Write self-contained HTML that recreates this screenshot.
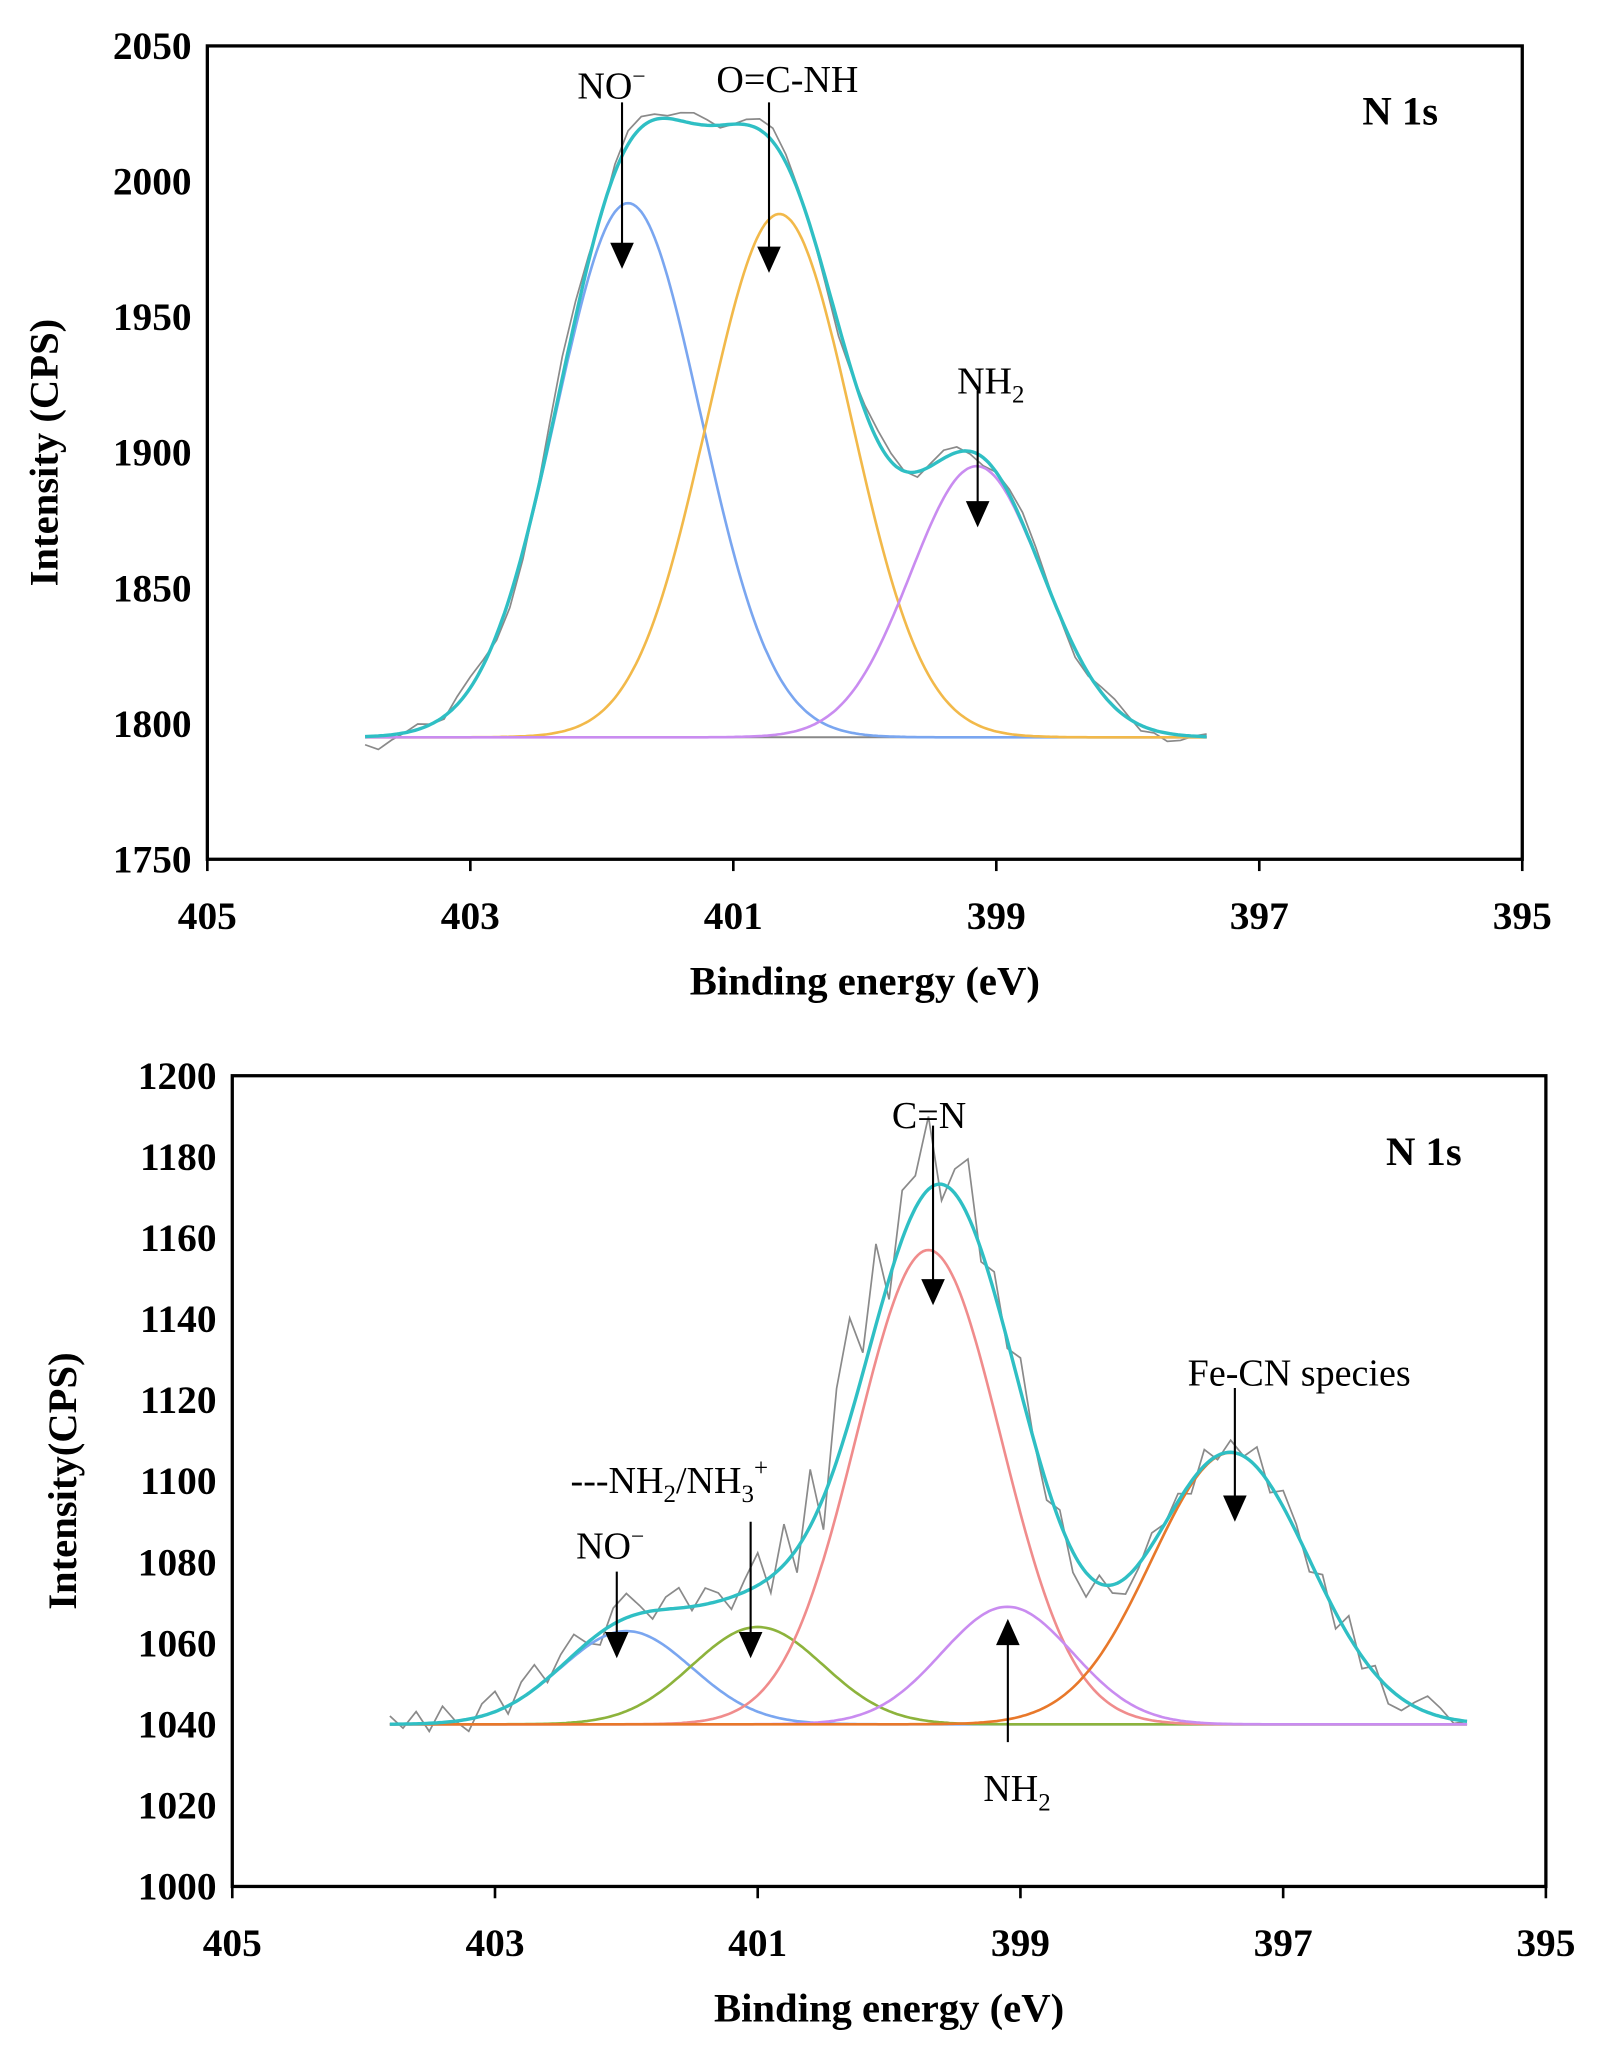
<!DOCTYPE html>
<html><head><meta charset="utf-8">
<style>
html,body{margin:0;padding:0;background:#fff;}
svg{display:block;}
text{font-family:"Liberation Serif",serif;}
.tick{font-weight:bold;font-size:30px;}
.title{font-weight:bold;font-size:31px;}
.ann{font-size:29px;}
</style></head>
<body>
<svg id="chart" width="1601" height="2057" viewBox="0 0 1220 1568" preserveAspectRatio="none">
</svg>
<script>
const NS="http://www.w3.org/2000/svg";
const svg=document.getElementById('chart');
// ---- data: top panel ----
const topXTicks=[405,403,401,399,397,395];
const topYTicks=[1750,1800,1850,1900,1950,2000,2050];
const topBaseline=1795;
const topCenters=[401.8,400.65,399.15];
const topAmps=[197,193,100];
const topSigmas=[0.55,0.55,0.5];
const topColors=['#7aa6f0','#f2b94a','#c98cf0'];
const topResid=[-3,-5,-2,0,2,0,-1,3,4,2,-2,-4,-3,0,5,8,6,2,-1,3,5,4,2,1,3,4,2,-1,0,2,4,5,3,1,0,-2,-4,-1,2,4,3,0,-2,1,3,2,-1,-3,0,2,4,3,1,-1,-3,-1,2,3,1,-2,-1,-3,-2,0,1];
// ---- data: bottom panel ----
const botXTicks=[405,403,401,399,397,395];
const botYTicks=[1000,1020,1040,1060,1080,1100,1120,1140,1160,1180,1200];
const botBaseline=1040;
const botCenters=[402.0,401.0,399.7,399.1,397.4];
const botAmps=[23,24,117,29,67];
const botSigmas=[0.5,0.5,0.55,0.5,0.6];
const botColors=['#7aa6f0','#8db33c','#f08c8c','#c98cf0','#e8782a'];
const botResid=[2,-1,3,-2,4,0,-3,3,5,-2,4,6,-1,3,5,0,-3,4,6,2,-2,3,5,-1,4,2,-3,3,8,-4,10,-6,14,-8,18,25,5,20,-5,12,8,18,-4,6,14,-3,5,-2,8,0,-4,3,-5,-6,2,-2,-4,-1,3,0,2,-3,4,-1,3,0,5,-2,4,2,-3,3,-4,5,-3,2,-4,-3,1,4,2,-1,0];

function el(tag,attrs,parent,txt){const e=document.createElementNS(NS,tag);for(const k in attrs)e.setAttribute(k,attrs[k]);if(txt!==undefined)e.textContent=txt;(parent||svg).appendChild(e);return e;}

function panel(o){
  const g=el('g',{});
  
  
  const X=v=>o.L+(405-v)/10*(o.R-o.L);
  const Y=v=>o.B-(v-o.ymin)/(o.ymax-o.ymin)*(o.B-o.T);
  const f=el('rect',{x:o.L,y:o.T,width:o.R-o.L,height:o.B-o.T,fill:'none',stroke:'#000','stroke-width':2.5},g);
  
  o.xt.forEach(v=>{
    const t=el('line',{x1:X(v),x2:X(v),y1:o.B,y2:o.B+9,stroke:'#000','stroke-width':2},g);
    
    const l=el('text',{x:X(v),y:o.B+53,'text-anchor':'middle',class:'tick'},g,v);
    
  });
  o.yt.forEach(v=>{
    const l=el('text',{x:o.L-12,y:Y(v)+10,'text-anchor':'end',class:'tick'},g,v);
    
  });
  const xt=el('text',{x:(o.L+o.R)/2,y:o.B+103,'text-anchor':'middle',class:'title'},g,'Binding energy (eV)');
  
  const cy=(o.T+o.B)/2;
  const yt=el('text',{x:o.ytx,y:cy,'text-anchor':'middle',class:'title',transform:`rotate(-90 ${o.ytx} ${cy})`},g,o.ytitle);
  
  const xs=[];for(let i=0;i<=Math.round((o.x0-o.x1)*50);i++)xs.push(o.x0-i*0.02);
  const comp=(k,x)=>o.amps[k]*Math.exp(-((x-o.centers[k])**2)/(2*o.sig[k]**2));
  const bl=el('line',{x1:X(o.x0),x2:X(o.x1),y1:Y(o.base),y2:Y(o.base),stroke:'#888','stroke-width':1.5},g);
  
  let d='';o.resid.forEach((r,i)=>{const x=o.x0-i*0.1;let s=o.base;for(let k=0;k<o.centers.length;k++)s+=comp(k,x);d+=(i?'L':'M')+X(x).toFixed(1)+','+Y(s+r).toFixed(1);});
  const raw=el('path',{d:d,fill:'none',stroke:'#8a8a8a','stroke-width':1.3},g);
  
  for(let k=0;k<o.centers.length;k++){
    let p='';xs.forEach((x,i)=>{p+=(i?'L':'M')+X(x).toFixed(1)+','+Y(o.base+comp(k,x)).toFixed(1);});
    const c=el('path',{d:p,fill:'none',stroke:o.colors[k],'stroke-width':2},g);
    
  }
  let e='';xs.forEach((x,i)=>{let s=o.base;for(let k=0;k<o.centers.length;k++)s+=comp(k,x);e+=(i?'L':'M')+X(x).toFixed(1)+','+Y(s).toFixed(1);});
  const env=el('path',{d:e,fill:'none',stroke:'#2fbfc4','stroke-width':2.6},g);
  
  const n1=el('text',{x:o.R-93,y:o.T+o.n1y,'text-anchor':'middle',class:'title'},g,'N 1s');
  
  return g;
}
panel({name:'top-panel',L:158,R:1160,T:35,B:655,ymin:1750,ymax:2050,xt:topXTicks,yt:topYTicks,ytx:44,ytitle:'Intensity (CPS)',x0:403.8,x1:397.4,base:topBaseline,centers:topCenters,amps:topAmps,sig:topSigmas,colors:topColors,resid:topResid,n1y:60});
panel({name:'bottom-panel',L:177,R:1178,T:820,B:1438,ymin:1000,ymax:1200,xt:botXTicks,yt:botYTicks,ytx:58,ytitle:'Intensity(CPS)',x0:403.8,x1:395.6,base:botBaseline,centers:botCenters,amps:botAmps,sig:botSigmas,colors:botColors,resid:botResid,n1y:68});

function arrow(name,x,y1,y2){
  const g=el('g',{});
  
  const dir=y2>y1?1:-1;
  el('line',{x1:x,x2:x,y1:y1,y2:y2-dir*18,stroke:'#000','stroke-width':1.6},g);
  el('polygon',{points:`${x-9},${y2-dir*20} ${x+9},${y2-dir*20} ${x},${y2}`,fill:'#000'},g);
}
function label(name,x,y,html){const t=el('text',{x:x,y:y,'text-anchor':'middle',class:'ann'});t.innerHTML=html;}
arrow('arrow-no-top',474,78,205);label('label-no-top',466,75,'NO<tspan dy="-11" font-size="18">−</tspan>');
arrow('arrow-ocnh-top',586,78,208);label('label-ocnh-top',600,70,'O=C-NH');
arrow('arrow-nh2-top',745,298,402);label('label-nh2-top',755,300,'NH<tspan dy="7" font-size="19">2</tspan>');
arrow('arrow-cn-bot',711,858,995);label('label-cn-bot',708,860,'C=N');
arrow('arrow-fecn-bot',941,1058,1160);label('label-fecn-bot',990,1056,'Fe-CN species');
arrow('arrow-nh3-bot',572,1160,1264);label('label-nh3-bot',510,1138,'---NH<tspan dy="7" font-size="19">2</tspan><tspan dy="-7">/NH</tspan><tspan dy="7" font-size="19">3</tspan><tspan dy="-20" font-size="19">+</tspan>');
arrow('arrow-no-bot',470,1198,1264);label('label-no-bot',465,1188,'NO<tspan dy="-11" font-size="18">−</tspan>');
arrow('arrow-nh2-bot',768,1328,1234);label('label-nh2-bot',775,1373,'NH<tspan dy="7" font-size="19">2</tspan>');
</script>
</body></html>
